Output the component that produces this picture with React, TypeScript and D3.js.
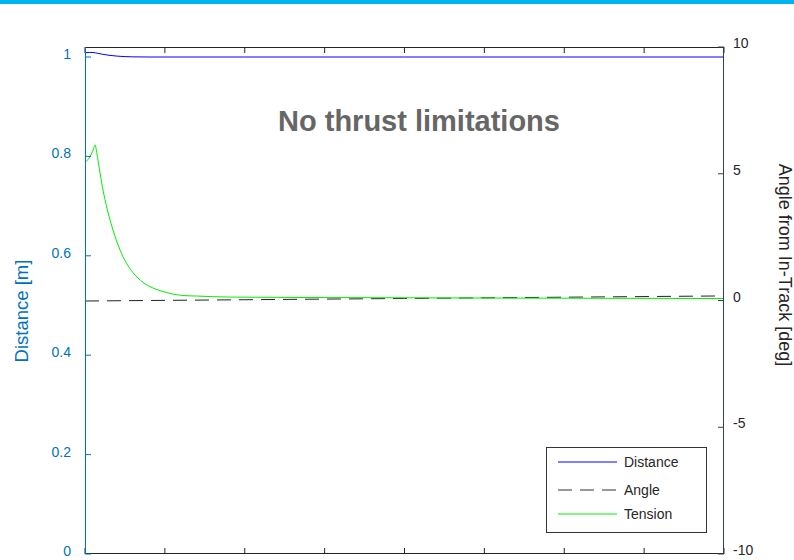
import React from "react";
import * as d3 from "d3";

// Time grid (s) — x axis carries ticks only, no labels
const timeTicks = [0, 50, 100, 150, 200, 250, 300, 350, 400];

// Left axis: distance [m]
const distanceTicks = [0, 0.2, 0.4, 0.6, 0.8, 1];
const distanceSeries: [number, number][] = [
  [0, 1.0087], [3, 1.0092], [5, 1.009], [8, 1.0075], [11, 1.0055], [15, 1.0035],
  [20, 1.0018], [25, 1.0008], [30, 1.0003], [40, 1.0], [100, 1.0], [200, 1.0],
  [300, 1.0], [400, 1.0],
];

// Tension, plotted against the left axis
const tensionSeries: [number, number][] = [
  [0, 0.789], [2, 0.794], [4, 0.805], [5.3, 0.815], [6.3, 0.823], [7.5, 0.805],
  [9, 0.775], [11, 0.737], [13, 0.706], [15, 0.680], [17.5, 0.652], [20, 0.628],
  [23.8, 0.598], [28, 0.575], [32.6, 0.557], [37, 0.545], [42.6, 0.535], [50, 0.527],
  [55, 0.523], [62, 0.520], [70, 0.519], [90, 0.517], [150, 0.516], [250, 0.515],
  [400, 0.514],
];

// Right axis: angle from in-track [deg]
const angleTicks = [-10, -5, 0, 5, 10];
const angleSeries: [number, number][] = [
  [0, -0.02], [100, 0.03], [200, 0.08], [300, 0.13], [400, 0.18],
];

const legendItems = [
  { label: "Distance", color: "#0000ff", dash: "" },
  { label: "Angle", color: "#333333", dash: "14,8" },
  { label: "Tension", color: "#00ee00", dash: "" },
];

const W = 794;
const H = 560;
const plot = { left: 85, right: 724, top: 47, bottom: 554 };
const FONT = "'Liberation Sans', Arial, Helvetica, sans-serif";
const BLUE_AXIS = "#0072bd";
const DARK = "#262626";

export default function App() {
  const x = d3.scaleLinear().domain([0, 400]).range([plot.left, plot.right]);
  const yLeft = d3
    .scaleLinear()
    .domain([0, (plot.bottom - plot.top) / 497])
    .range([plot.bottom, plot.top]);
  const yRight = d3.scaleLinear().domain([-10, 10]).range([plot.bottom, plot.top]);

  const leftLine = d3
    .line<[number, number]>()
    .x((d) => x(d[0]))
    .y((d) => yLeft(d[1]))
    .curve(d3.curveMonotoneX);
  const rightLine = d3
    .line<[number, number]>()
    .x((d) => x(d[0]))
    .y((d) => yRight(d[1]));

  const tickLen = 6;
  const legend = { x: 546, y: 447, w: 160, h: 85 };
  const legendRows = [462, 490, 514];

  return (
    <svg
      width={W}
      height={H}
      style={{ position: "absolute", left: 0, top: 0, background: "#fff" }}
      fontFamily={FONT}
    >
      <rect x={0} y={0} width={W} height={4} fill="#00b4f0" />

      {/* data */}
      <path d={rightLine(angleSeries) ?? ""} fill="none" stroke="#222" strokeWidth={1} strokeDasharray="14,8" />
      <path d={leftLine(tensionSeries) ?? ""} fill="none" stroke="#00ee00" strokeWidth={1} />
      <path d={leftLine(distanceSeries) ?? ""} fill="none" stroke="#0000ff" strokeWidth={1} />

      {/* top and bottom frame with time ticks */}
      <line x1={plot.left} x2={plot.right} y1={plot.top + 0.5} y2={plot.top + 0.5} stroke={DARK} />
      <line x1={plot.left} x2={plot.right} y1={plot.bottom - 0.5} y2={plot.bottom - 0.5} stroke={DARK} />
      {timeTicks.map((t) => (
        <g key={`t${t}`}>
          <line x1={x(t)} x2={x(t)} y1={plot.top} y2={plot.top + tickLen} stroke={DARK} />
          <line x1={x(t)} x2={x(t)} y1={plot.bottom} y2={plot.bottom - tickLen} stroke={DARK} />
        </g>
      ))}

      {/* left axis */}
      <line x1={plot.left + 0.5} x2={plot.left + 0.5} y1={plot.top} y2={plot.bottom} stroke={BLUE_AXIS} />
      {distanceTicks.map((v) => (
        <g key={`l${v}`}>
          <line x1={plot.left} x2={plot.left + tickLen} y1={yLeft(v)} y2={yLeft(v)} stroke={BLUE_AXIS} />
          <text x={71} y={yLeft(v) + 2} textAnchor="end" fontSize={14} fill={BLUE_AXIS}>
            {d3.format("~g")(v)}
          </text>
        </g>
      ))}
      <text
        transform={`translate(28, 311) rotate(-90)`}
        textAnchor="middle"
        fontSize={18.5}
        fill={BLUE_AXIS}
      >
        Distance [m]
      </text>

      {/* right axis */}
      <line x1={plot.right - 0.5} x2={plot.right - 0.5} y1={plot.top} y2={plot.bottom} stroke="#33414d" />
      {angleTicks.map((v) => (
        <g key={`r${v}`}>
          <line x1={plot.right} x2={plot.right - tickLen} y1={yRight(v)} y2={yRight(v)} stroke="#33414d" />
          <text x={733} y={yRight(v) + 1} fontSize={14} fill={DARK}>
            {v}
          </text>
        </g>
      ))}
      <text
        transform={`translate(779, 265) rotate(90)`}
        textAnchor="middle"
        fontSize={18}
        fill={DARK}
      >
        Angle from In-Track [deg]
      </text>

      {/* annotation */}
      <text x={419} y={131} textAnchor="middle" fontSize={29} fontWeight="bold" fill="#666">
        No thrust limitations
      </text>

      {/* legend */}
      <rect
        x={legend.x + 0.5}
        y={legend.y + 0.5}
        width={legend.w}
        height={legend.h}
        fill="#fff"
        stroke="#333"
      />
      {legendItems.map((item, i) => (
        <g key={item.label}>
          <line
            x1={558}
            x2={617}
            y1={legendRows[i]}
            y2={legendRows[i]}
            stroke={item.color}
            strokeWidth={1}
            strokeDasharray={item.dash || undefined}
          />
          <text x={624} y={legendRows[i] + 5} fontSize={14} fill={DARK}>
            {item.label}
          </text>
        </g>
      ))}
    </svg>
  );
}
